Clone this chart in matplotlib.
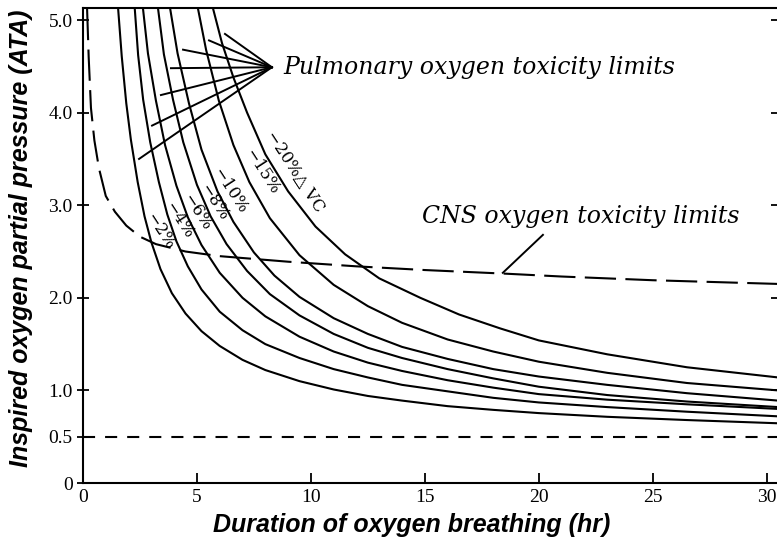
import numpy as np
import matplotlib
matplotlib.use('Agg')
import matplotlib.pyplot as plt

# ------------------------- DATOS LEIDOS -------------------------

# curvas de toxicidad pulmonar (% de cambio de capacidad vital)
x_2 = [1.54, 1.7, 1.9, 2.1, 2.4, 2.7, 3.0, 3.4, 3.9, 4.5, 5.2, 6.0, 7.0, 8.0,
       9.5, 11, 12.5, 14, 16, 18, 20, 23, 26.5, 30.5]
y_2 = [5.13, 4.61, 4.10, 3.71, 3.25, 2.88, 2.60, 2.31, 2.05, 1.83, 1.64, 1.48,
       1.33, 1.22, 1.10, 1.01, 0.94, 0.89, 0.83, 0.79, 0.755, 0.715, 0.68, 0.645]

x_4 = [2.27, 2.42, 2.64, 2.95, 3.33, 3.7, 4.1, 4.6, 5.2, 6.0, 7.0, 8.0,
       9.5, 11, 12.5, 14, 16, 18, 20, 23, 26.5, 30.5]
y_4 = [5.13, 4.62, 4.14, 3.68, 3.25, 2.90, 2.61, 2.34, 2.09, 1.85, 1.65, 1.50,
       1.35, 1.23, 1.14, 1.06, 0.99, 0.92, 0.87, 0.82, 0.77, 0.72]

x_6 = [2.63, 2.85, 3.2, 3.6, 4.1, 4.6, 5.2, 6.0, 7.0, 8.0, 9.5, 11, 12.5,
       14, 16, 18, 20, 23, 26.5, 30.5]
y_6 = [5.13, 4.64, 4.13, 3.65, 3.21, 2.87, 2.57, 2.27, 2.00, 1.80, 1.58, 1.42,
       1.30, 1.21, 1.11, 1.03, 0.96, 0.90, 0.85, 0.80]

x_8 = [3.29, 3.55, 3.95, 4.4, 5.0, 5.6, 6.3, 7.2, 8.2, 9.5, 11, 12.5, 14,
       16, 18, 20, 23, 26.5, 30.5]
y_8 = [5.13, 4.63, 4.14, 3.68, 3.22, 2.88, 2.58, 2.29, 2.04, 1.81, 1.61, 1.46,
       1.35, 1.23, 1.13, 1.04, 0.95, 0.88, 0.82]

x_10 = [3.82, 4.15, 4.65, 5.2, 5.9, 6.6, 7.5, 8.4, 9.5, 11, 12.5, 14, 16,
        18, 20, 23, 26.5, 30.5]
y_10 = [5.13, 4.64, 4.10, 3.60, 3.15, 2.82, 2.49, 2.24, 2.01, 1.78, 1.61, 1.47,
        1.34, 1.23, 1.15, 1.06, 0.97, 0.89]

x_15 = [5.04, 5.4, 5.96, 6.6, 7.3, 8.2, 9.5, 11, 12.5, 14, 16, 18, 20, 23,
        26.5, 30.5]
y_15 = [5.13, 4.68, 4.13, 3.65, 3.25, 2.86, 2.46, 2.14, 1.91, 1.73, 1.55, 1.42,
        1.31, 1.19, 1.08, 1.00]

x_20 = [5.70, 6.1, 6.6, 7.2, 8.0, 9.0, 10.2, 11.5, 13, 14.8, 16.5, 18.3, 20,
        23, 26.5, 30.5]
y_20 = [5.13, 4.75, 4.38, 4.00, 3.55, 3.15, 2.77, 2.47, 2.21, 2.00, 1.82, 1.67,
        1.54, 1.39, 1.25, 1.14]

curvas = [(x_2, y_2), (x_4, y_4), (x_6, y_6), (x_8, y_8),
          (x_10, y_10), (x_15, y_15), (x_20, y_20)]

# etiquetas de las curvas
etiquetas = ['\u22122%', '\u22124%', '\u22126%', '\u22128%', '\u221210%',
             '\u221215%', '\u221220%\u25b3 VC']
etiq_x = [3.38, 4.21, 5.0, 5.75, 6.45, 7.85, 9.3]
etiq_y = [2.72, 2.84, 2.92, 3.03, 3.16, 3.36, 3.36]

# limite SNC (linea de trazos)
x_cns = [0.18, 0.25, 0.35, 0.5, 0.7, 1.0, 1.4, 1.9, 2.5, 3.2, 4.5, 6, 9, 12,
         15, 18.6, 21, 25, 30.5]
y_cns = [5.12, 4.6, 4.05, 3.7, 3.4, 3.1, 2.93, 2.78, 2.66, 2.58, 2.50, 2.45,
         2.39, 2.34, 2.30, 2.26, 2.23, 2.19, 2.15]

nivel_bajo = 0.5

# lineas guia de la anotacion pulmonar
punta = (8.29, 4.49)
guia_x = [6.23, 5.53, 4.39, 3.86, 3.42, 3.03, 2.46]
guia_y = [4.85, 4.78, 4.68, 4.48, 4.19, 3.86, 3.50]

x_ticks = [0, 5, 10, 15, 20, 25, 30]
y_ticks = [0, 0.5, 1.0, 2.0, 3.0, 4.0, 5.0]
y_tick_labels = ['0', '0.5', '1.0', '2.0', '3.0', '4.0', '5.0']

# ---------------------------- GRAFICO ----------------------------

fig = plt.figure(figsize=(7.77, 5.48), dpi=100)
ax = fig.add_axes([0.1068, 0.1186, 0.8932, 0.8668])

for xs, ys in curvas:
    ax.plot(xs, ys, color='black', lw=1.5, solid_joinstyle='round')

ax.plot(x_cns, y_cns, color='black', lw=1.5, dashes=(15, 4.5))
ax.axhline(nivel_bajo, color='black', lw=1.5, dashes=(5.8, 4.8))

for lx, ly in zip(guia_x, guia_y):
    ax.plot([lx, punta[0]], [ly, punta[1]], color='black', lw=1.4)

for txt, tx, ty in zip(etiquetas, etiq_x, etiq_y):
    ax.text(tx, ty, txt, rotation=-57, rotation_mode='anchor', ha='center',
            va='center', fontsize=12, family=['DejaVu Serif', 'DejaVu Sans'])

ax.text(8.77, 4.49, 'Pulmonary oxygen toxicity limits', fontsize=17,
        family='DejaVu Serif', style='italic', va='center', ha='left')
ax.text(14.87, 2.88, 'CNS oxygen toxicity limits', fontsize=17,
        family='DejaVu Serif', style='italic', va='center', ha='left')
ax.plot([20.18, 18.42], [2.68, 2.27], color='black', lw=1.4)

ax.set_xlim(0, 30.45)
ax.set_ylim(0, 5.13)
ax.set_xticks(x_ticks)
ax.set_yticks(y_ticks)
ax.set_yticklabels(y_tick_labels)
for lab in ax.get_xticklabels() + ax.get_yticklabels():
    lab.set_family('Liberation Serif')
    lab.set_fontsize(14)

ax.tick_params(axis='x', direction='in', length=7, width=1.3, pad=4)
ax.tick_params(axis='y', direction='inout', length=9, width=1.3, pad=3,
               right=True)
ax.spines['right'].set_visible(False)
for s in ['left', 'bottom', 'top']:
    ax.spines[s].set_linewidth(1.5)

ax.set_xlabel('Duration of oxygen breathing (hr)', fontsize=18,
              family='Liberation Sans', weight='bold', style='italic')
ax.set_ylabel('Inspired oxygen partial pressure (ATA)', fontsize=18,
              family='Liberation Sans', weight='bold', style='italic')
ax.xaxis.set_label_coords(0.474, -0.064)
ax.yaxis.set_label_coords(-0.072, 0.515)

plt.savefig('out.png', dpi=100)
